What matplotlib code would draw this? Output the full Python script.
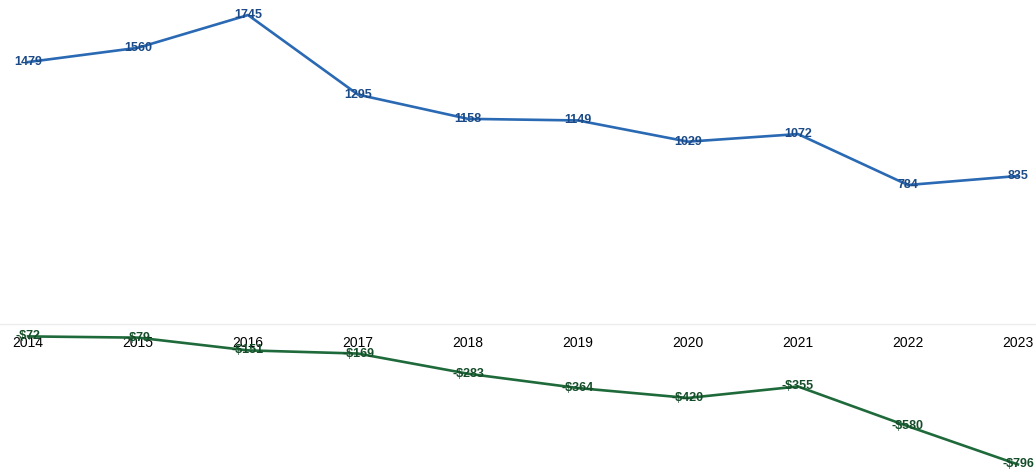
import matplotlib.pyplot as plt

years = [2014, 2015, 2016, 2017, 2018, 2019, 2020, 2021, 2022, 2023]
top_values = [1479, 1560, 1745, 1295, 1158, 1149, 1029, 1072, 784, 835]
bottom_values = [-72, -79, -151, -169, -283, -364, -420, -355, -580, -796]
bottom_labels = ['-$72', '-$79', '-$151', '-$169', '-$283', '-$364', '-$420', '-$355', '-$580', '-$796']

plt.rcParams['font.family'] = ['Liberation Sans', 'DejaVu Sans']

fig = plt.figure(figsize=(10.36, 4.74), dpi=100)
ax = fig.add_axes([0, 0, 1, 1])

blue = '#2a69b3'
blue_txt = '#1b4a86'
green = '#1f6a3a'
green_txt = '#154d29'

ax.plot(years, top_values, color=blue, linewidth=1.9, zorder=2)
ax.plot(years, bottom_values, color=green, linewidth=1.9, zorder=2)

for x, y in zip(years, top_values):
    ax.text(x, y, str(y), ha='center', va='center', fontsize=9,
            fontweight='bold', color=blue_txt, zorder=3)
for x, y, t in zip(years, bottom_values, bottom_labels):
    ax.text(x, y, t, ha='center', va='center', fontsize=9,
            fontweight='bold', color=green_txt, zorder=3)

ax.axhline(0, color='#ececec', linewidth=1, zorder=1)

ax.set_xlim(2013.745, 2023.164)
ax.set_ylim(-850, 1830)

ax.set_xticks(years)
ax.set_xticklabels([str(y) for y in years], fontsize=10.5, color='#222222')
ax.spines['bottom'].set_position(('data', 0))
for s in ['top', 'right', 'left', 'bottom']:
    ax.spines[s].set_visible(False)
ax.tick_params(axis='x', length=0, pad=9)
ax.set_yticks([])

fig.savefig('out.png', dpi=100)
